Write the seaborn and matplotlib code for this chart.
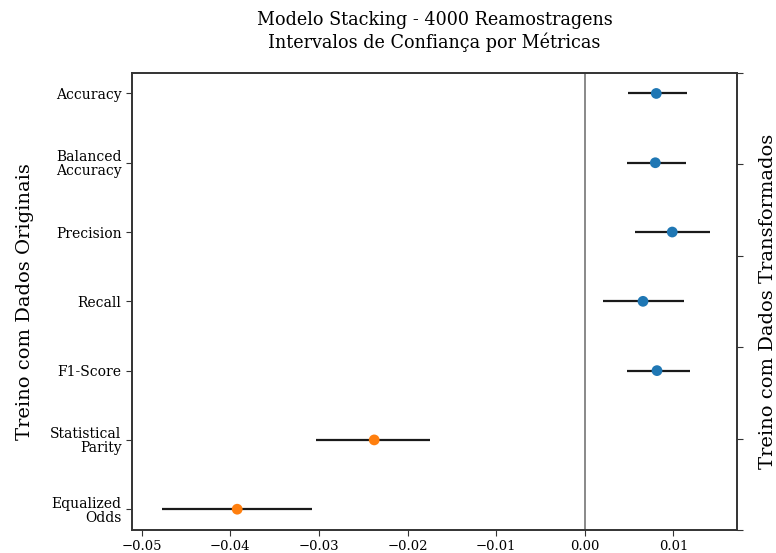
import matplotlib
matplotlib.use("Agg")
import matplotlib.pyplot as plt
import seaborn as sns
import pandas as pd

# Bootstrap confidence intervals (4000 resamples) per metric
metrics = ["Accuracy", "Balanced\nAccuracy", "Precision", "Recall",
           "F1-Score", "Statistical\nParity", "Equalized\nOdds"]
means = [0.00807, 0.00796, 0.00987, 0.00657, 0.00815, -0.02376, -0.03922]
lower = [0.00484, 0.00477, 0.00567, 0.00203, 0.00477, -0.03030, -0.04767]
upper = [0.01149, 0.01141, 0.01408, 0.01119, 0.01182, -0.01745, -0.03074]
groups = ["performance"] * 5 + ["fairness"] * 2

df = pd.DataFrame({"metric": metrics, "mean": means, "low": lower,
                   "high": upper, "group": groups})

sns.set_style("ticks")
plt.rcParams["font.family"] = ["DejaVu Serif"]
plt.rcParams["text.color"] = "black"
plt.rcParams["axes.labelcolor"] = "black"

fig = plt.figure(figsize=(7.76, 5.53), dpi=100)
ax = fig.add_axes([0.170, 0.0416, 0.780, 0.827])

ypos = list(range(len(metrics)))
ax.hlines(y=ypos, xmin=df["low"], xmax=df["high"], color="#1a1a1a",
          linewidth=1.6, zorder=2)
sns.scatterplot(data=df, x="mean", y=ypos, hue="group",
                palette={"performance": "#1f77b4", "fairness": "#ff7f0e"},
                s=60, edgecolor="none", legend=False, zorder=3, ax=ax)
ax.axvline(0, color="gray", linewidth=1.3, zorder=1)

ax.set_yticks(ypos)
ax.set_yticklabels(metrics, fontsize=10, linespacing=1.0)
ax.set_ylim(6.3, -0.3)
ax.set_xlim(-0.0511, 0.0172)
ax.set_xticks([-0.05, -0.04, -0.03, -0.02, -0.01, 0.00, 0.01])
ax.set_xticklabels(["\u22120.05", "\u22120.04", "\u22120.03", "\u22120.02",
                    "\u22120.01", "0.00", "0.01"], fontsize=9.5)
ax.set_xlabel("")
ax.set_ylabel("Treino com Dados Originais", fontsize=14, labelpad=12)

ax2 = ax.twinx()
ax2.set_ylim(0, 1)
ax2.set_yticks([0, 0.2, 0.4, 0.6, 0.8, 1.0])
ax2.set_yticklabels([])
ax2.set_ylabel("Treino com Dados Transformados", fontsize=14, labelpad=8)

for a in (ax, ax2):
    for sp in a.spines.values():
        sp.set_color("#333333")
        sp.set_linewidth(1.2)
    a.tick_params(colors="#333333", labelcolor="black", length=4)

ax.set_title("Modelo Stacking - 4000 Reamostragens\nIntervalos de Confiança por Métricas",
             fontsize=14, fontstretch="condensed", pad=18)

fig.savefig("out.png", dpi=100)
